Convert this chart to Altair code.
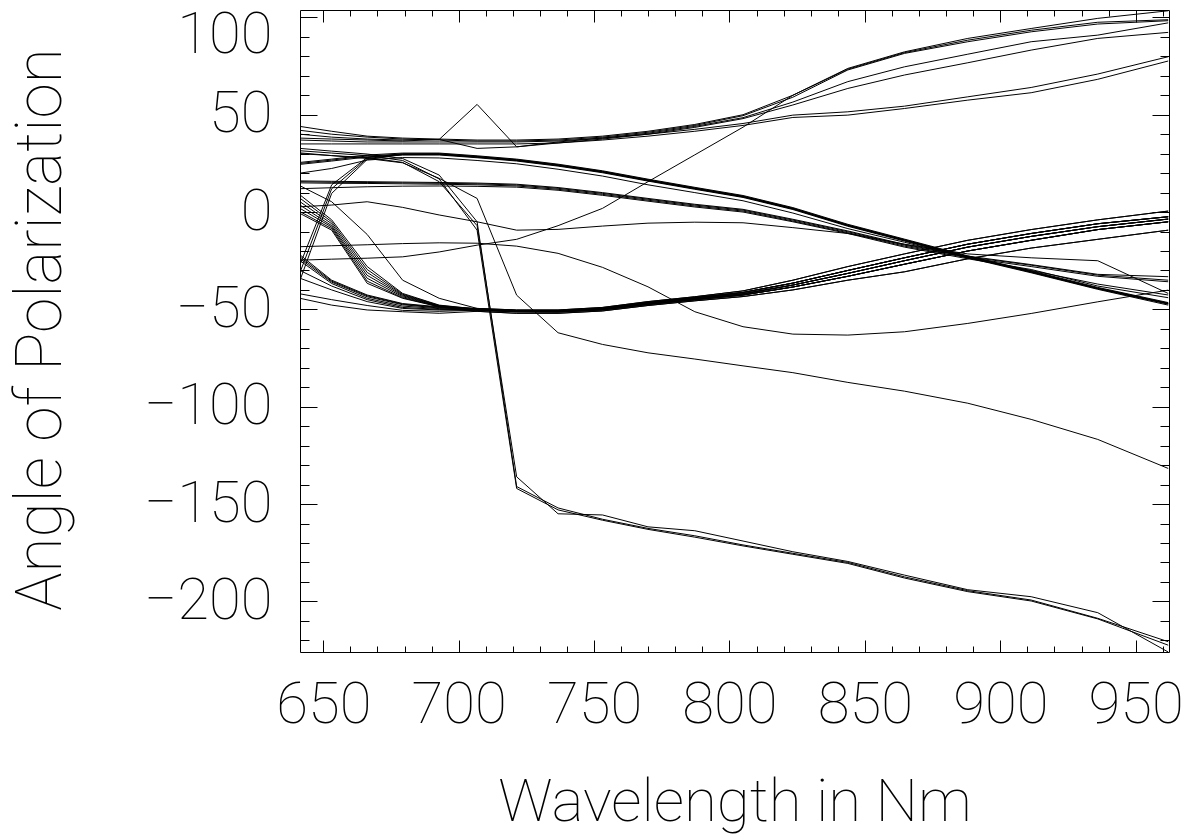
import altair as alt
import pandas as pd

# ---------------- data ----------------
wavelength = [641.4, 653.1, 666.2, 679.3, 692.8, 706.8, 721.4, 736.7, 753.1, 769.9,
              787.2, 805.0, 823.4, 843.7, 864.6, 888.0, 911.4, 936.0, 962.0]

# top group (rising to the right)
p1 = [44, 41.5, 39, 38, 37.5, 37, 37, 37.5, 39, 41.5, 45, 50, 60, 73.8, 82.3, 89.2, 94.3, 99.5, 103.4]
p2 = [42, 40, 38.5, 37.5, 37, 36.5, 36.5, 37, 38.5, 41, 44.5, 49.5, 59, 73, 81.5, 87.5, 92.6, 96.6, 98.3]
q1 = [40, 38.5, 37.5, 37, 37.3, 55.3, 33.5, 36, 38, 40.5, 44, 48.5, 56.5, 67, 74.6, 81.1, 87.5, 90.9, 97.2]
q2 = [38, 37.5, 37, 36.5, 37.3, 32.7, 33.5, 35.5, 37.5, 40, 43.5, 48, 55, 63.5, 70.4, 76.7, 83.2, 89.2, 92.3]
r1 = [37, 36.5, 36, 36, 36, 36, 36, 36.5, 38, 40, 42.5, 45.5, 49.8, 51.5, 54.4, 59.2, 64, 70.9, 79.8]
r2 = [35, 35, 35, 35, 35, 35, 35, 35.5, 37, 39, 41.5, 44.5, 48.6, 49.8, 53.2, 57.5, 61.3, 68.2, 77.6]
cross = [-24.7, -24.2, -23.7, -23, -20.5, -17, -14, -7, 1.9, 15.6, 29.4, 43.6, 60, 73.4, 81.9, 88.3, 93.4, 97.5, 98.8]

# upper descending bundle
ub1 = [25.5, 27.2, 29.3, 30.3, 30.3, 28.9, 27.2, 24.6, 21.2, 16.9, 12.7, 8.5, 2.3, -6.3, -13.9, -22.5, -30.2, -38.7, -46.5]
ub2 = [25, 26.7, 28.8, 29.8, 29.8, 28.4, 26.7, 24.1, 20.7, 16.4, 12.2, 8, 1.8, -6.8, -14.4, -23, -30.7, -39.2, -47]
ub3 = [24.5, 26.2, 28.3, 29.3, 29.3, 27.9, 26.2, 23.6, 20.2, 15.9, 11.7, 7.5, 1.3, -7.3, -14.9, -23.5, -31.2, -39.7, -47.8]
ub4 = [20, 22.4, 26.7, 28, 27.8, 26.5, 24.8, 22, 18.5, 14, 10, 5.8, -0.5, -8.5, -15.5, -23.5, -30, -37, -42.6]
sr1 = [-35, 9.6, 27, 29.5, 29.6, 28.2, 26.5, 23.9, 20.5, 16.2, 12, 7.8, 1.6, -7, -14.6, -23.2, -30.9, -39.4, -47.3]
sr2 = [-31, 12, 27.5, 29.7, 29.7, 28.3, 26.6, 24, 20.6, 16.3, 12.1, 7.9, 1.7, -6.9, -14.5, -23.1, -30.8, -39.3, -47.1]
sr3 = [-27, 14, 28, 29.9, 30, 28.6, 26.9, 24.3, 20.9, 16.6, 12.4, 8.2, 2, -6.6, -14.2, -22.8, -30.5, -39, -46.8]

# lower descending bundle
lb1 = [16, 15.8, 15.6, 15.4, 15.2, 14.9, 14.3, 12.6, 10, 7, 4, 1.4, -3.7, -9.7, -16.6, -22.6, -27, -32, -33.2]
lb2 = [15.6, 15.3, 15.2, 15, 14.8, 14.5, 13.9, 12.2, 9.6, 6.6, 3.6, 1, -4.1, -10.1, -17, -23, -27.3, -32.4, -35]
lb3 = [15, 14.8, 14.7, 14.5, 14.3, 14, 13.4, 11.7, 9.1, 6.1, 3.1, 0.5, -4.6, -10.6, -17.5, -23.5, -28, -33, -35.8]
lb4 = [12, 12.5, 13, 13.3, 13.4, 13.2, 12.8, 11.2, 8.6, 5.6, 2.6, 0, -5, -11, -18, -24, -29.5, -38, -44]
kink = [2.7, 3.6, 5.3, 2.4, -1.5, -5, -9.3, -8.9, -7.2, -5.7, -5.2, -5.5, -8, -11, -16.5, -21.5, -23.5, -25, -41.8]

# single curves
sag = [-17.8, -17.3, -16.8, -16.2, -15.8, -16, -17.5, -21.2, -28.4, -38.4, -51.2, -58.9, -62.7, -63.2, -61.5, -57.2, -52.1, -46.1, -40.1]
mid_drop = [30.4, 29, 27.5, 25.3, 17.3, 7, -42.7, -62, -68, -72.3, -75.5, -79, -82.5, -87.5, -92, -98.2, -106.5, -116.8, -131.7]

# steep drops
d1 = [32.7, 31.3, 29.8, 27.5, 19, -5, -141, -152, -157.8, -162.5, -166.3, -171, -175.3, -180, -187.4, -194.5, -199.3, -208.7, -220.7]
d2 = [31.5, 30.3, 29, 26.5, 17, -9.3, -142, -153, -158.3, -163, -167, -171.5, -175.8, -180.5, -188, -195, -199.8, -209, -222.5]
d3 = [30, 29, 28, 25.5, 15.6, -7, -136, -155, -155.6, -161.7, -163.7, -169, -174.5, -179.5, -186.5, -194, -197.6, -205.8, -226]

# lower U bundle: first five points of each curve, then one of five shared tails
u1_head = [-22, -35, -42.6, -47, -48.7]
u2_head = [-23, -35.5, -43, -47.3, -49]
u3_head = [-24, -36, -43.5, -47.6, -49.3]
u4_head = [-25, -36.7, -44.3, -48.3, -49.6]
u5_head = [-30, -38, -45, -49, -50]
u6_head = [-34, -40, -46, -49.5, -50.3]
u7_head = [-42, -45, -48, -50.5, -51]
u8_head = [-44.3, -47.8, -50.3, -51.2, -52]
f0_head = [13.5, 5.3, -11.5, -35, -44.3]
f1_head = [8.8, -4, -28, -41.8, -47.8]
f2_head = [7.1, -5, -29.5, -42.2, -48]
f3_head = [5.3, -6, -31, -42.6, -48.2]
f4_head = [3.6, -7, -32.5, -43, -48.4]
f5_head = [1.9, -7.7, -34, -43.5, -48.5]
f6_head = [0.2, -8.5, -35.5, -44, -48.6]
f7_head = [-0.7, -9.3, -36.6, -44.3, -48.7]

tail_a = [-49.5, -50.3, -50.3, -49, -46, -43.5, -40.5, -35, -28, -21.5, -14.5, -9, -4, 0.5]
tail_b = [-49.8, -50.6, -50.7, -49.4, -46.5, -44, -41.3, -36.5, -30, -23.5, -16.5, -11, -6, -2.4]
tail_c = [-50.1, -50.9, -51, -49.8, -47, -44.5, -42, -37.5, -31.5, -25, -18, -12.5, -7.5, -3.6]
tail_d = [-50.4, -51.2, -51.3, -50.2, -47.4, -45, -42.6, -38.5, -33, -26.8, -20, -14.5, -9, -5]
tail_e = [-51, -52, -52, -50.8, -48, -45.6, -43.4, -40, -35, -30.7, -24, -18.5, -14, -9.3]

x_major = [650, 700, 750, 800, 850, 900, 950]
x_minor = list(range(650, 961, 10))
y_major = [-200, -150, -100, -50, 0, 50, 100]
y_minor = list(range(-220, 101, 10))

series = [
    ("p1", p1), ("p2", p2), ("q1", q1), ("q2", q2), ("r1", r1), ("r2", r2), ("cross", cross),
    ("ub1", ub1), ("ub2", ub2), ("ub3", ub3), ("ub4", ub4), ("sr1", sr1), ("sr2", sr2), ("sr3", sr3),
    ("lb1", lb1), ("lb2", lb2), ("lb3", lb3), ("lb4", lb4), ("kink", kink),
    ("sag", sag), ("mid_drop", mid_drop), ("d1", d1), ("d2", d2), ("d3", d3),
    ("u1", u1_head + tail_a), ("u2", u2_head + tail_b), ("u3", u3_head + tail_b),
    ("u4", u4_head + tail_c), ("u5", u5_head + tail_c), ("u6", u6_head + tail_d),
    ("u7", u7_head + tail_d), ("u8", u8_head + tail_e),
    ("f0", f0_head + tail_a), ("f1", f1_head + tail_b), ("f2", f2_head + tail_b),
    ("f3", f3_head + tail_c), ("f4", f4_head + tail_c), ("f5", f5_head + tail_d),
    ("f6", f6_head + tail_d), ("f7", f7_head + tail_e),
]

rows = []
for name, vals in series:
    for i, (w, v) in enumerate(zip(wavelength, vals)):
        rows.append({"s": name, "i": i, "wl": w, "v": v})
df = pd.DataFrame(rows)

# ---------------- chart ----------------
W, H = 869, 642
FONT = "Roboto"
FS = 58

xs = alt.Scale(domain=[641.4, 962.3], nice=False, zero=False)
ys = alt.Scale(domain=[-226, 103.8], nice=False, zero=False)

base = alt.Chart(df)

lines = base.mark_line(color="black", strokeWidth=1, clip=True).encode(
    x=alt.X("wl:Q", scale=xs, axis=alt.Axis(
        values=x_major, format="d", ticks=False, domain=False, grid=False,
        labelFont=FONT, labelFontSize=FS, labelFontWeight=100, labelColor="black",
        labelPadding=24, labelOverlap=False, labelFlush=False, labelBound=False,
        title="Wavelength in Nm", titleFont=FONT, titleFontSize=60, titleFontWeight=100,
        titleColor="black", titleX=W / 2, titleY=168, titleBaseline="alphabetic",
        titleAlign="center")),
    y=alt.Y("v:Q", scale=ys, axis=alt.Axis(
        values=y_major, format="d", ticks=False, domain=False, grid=False,
        labelFont=FONT, labelFontSize=FS, labelFontWeight=100, labelColor="black",
        labelPadding=28, labelOverlap=False, labelFlush=False, labelBound=False,
        labelBaseline="middle",
        labelOffset={"condition": {"test": "datum.value == 100", "value": 18}, "value": 0},
        title="Angle of Polarization", titleFont=FONT, titleFontSize=64, titleFontWeight=100,
        titleColor="black", titleAngle=270, titleX=-240, titleY=H / 2 - 2,
        titleBaseline="alphabetic", titleAlign="center")),
    detail="s:N",
    order="i:Q",
)


def tick_layer(x_orient, y_orient, xvals, yvals, xsize, ysize):
    return base.mark_line(opacity=0).encode(
        x=alt.X("wl:Q", scale=xs, axis=alt.Axis(
            orient=x_orient, offset=-H, values=xvals, tickSize=xsize, tickColor="black",
            tickWidth=1, labels=False, domain=False, grid=False, title=None)),
        y=alt.Y("v:Q", scale=ys, axis=alt.Axis(
            orient=y_orient, offset=-W, values=yvals, tickSize=ysize, tickColor="black",
            tickWidth=1, labels=False, domain=False, grid=False, title=None)),
        detail="s:N",
    )


chart = alt.layer(
    lines,
    tick_layer("top", "right", x_major, y_major, 12, 17),
    tick_layer("bottom", "left", x_major, y_major, 12, 17),
    tick_layer("top", "right", x_minor, y_minor, 6, 9),
    tick_layer("bottom", "left", x_minor, y_minor, 6, 9),
).resolve_axis(x="independent", y="independent").properties(
    width=W, height=H,
    padding={"left": 300, "top": 10, "right": 28, "bottom": 188},
    autosize=alt.AutoSizeParams(type="none"),
    background="white",
).configure_view(stroke="black", strokeWidth=1)

chart.save("out.html", embed_options={"renderer": "svg", "actions": False})
